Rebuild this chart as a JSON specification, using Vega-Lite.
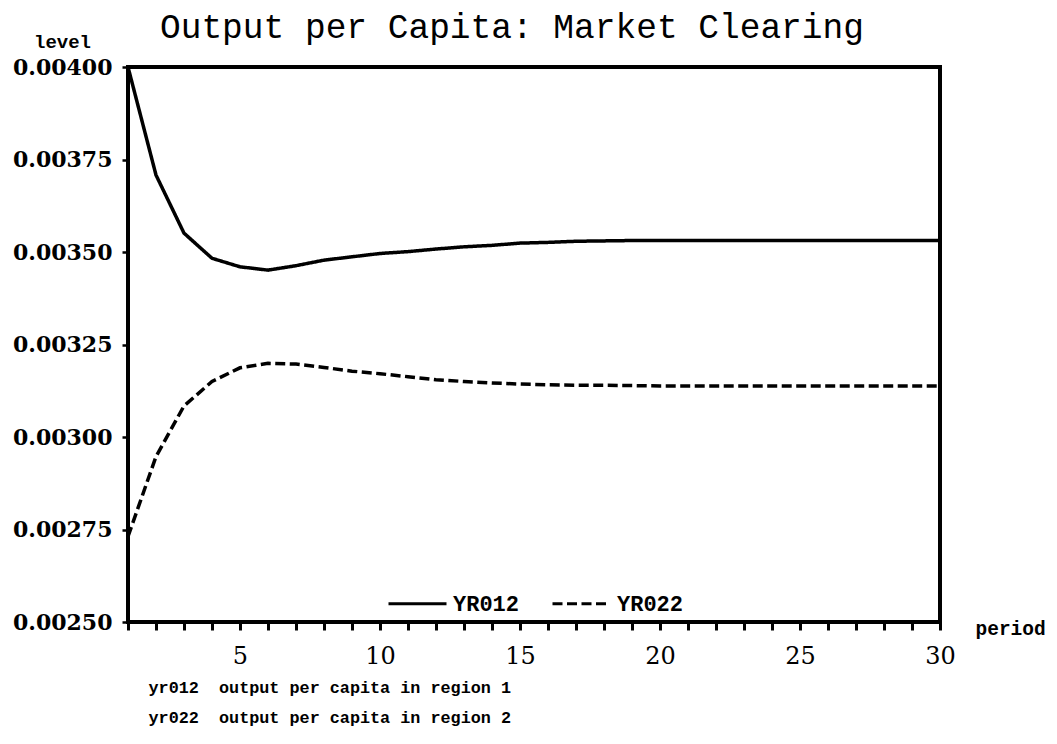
{
  "$schema": "https://vega.github.io/schema/vega-lite/v6.json",
  "width": 812,
  "height": 555,
  "autosize": {"type": "none"},
  "padding": {"left": 128, "top": 67, "right": 117, "bottom": 122},
  "background": "white",
  "title": {
    "text": "Output per Capita: Market Clearing",
    "anchor": "start",
    "frame": "group",
    "dx": 32,
    "offset": -40,
    "font": "Liberation Mono",
    "fontSize": 34.5,
    "fontWeight": "normal",
    "color": "black",
    "baseline": "alphabetic"
  },
  "config": {
    "view": {"stroke": "black", "strokeWidth": 4},
    "axis": {"grid": false, "domain": false, "labelColor": "black", "titleColor": "black", "tickColor": "black"}
  },
  "data": {
    "values": [
      {"period": 1, "series": "YR012", "value": 0.004},
      {"period": 2, "series": "YR012", "value": 0.003708},
      {"period": 3, "series": "YR012", "value": 0.003551},
      {"period": 4, "series": "YR012", "value": 0.003483},
      {"period": 5, "series": "YR012", "value": 0.00346},
      {"period": 6, "series": "YR012", "value": 0.003451},
      {"period": 7, "series": "YR012", "value": 0.003463},
      {"period": 8, "series": "YR012", "value": 0.003478},
      {"period": 9, "series": "YR012", "value": 0.003487},
      {"period": 10, "series": "YR012", "value": 0.003496},
      {"period": 11, "series": "YR012", "value": 0.003501},
      {"period": 12, "series": "YR012", "value": 0.003508},
      {"period": 13, "series": "YR012", "value": 0.003514},
      {"period": 14, "series": "YR012", "value": 0.003518},
      {"period": 15, "series": "YR012", "value": 0.003524},
      {"period": 16, "series": "YR012", "value": 0.003526},
      {"period": 17, "series": "YR012", "value": 0.003529},
      {"period": 18, "series": "YR012", "value": 0.00353},
      {"period": 19, "series": "YR012", "value": 0.003531},
      {"period": 20, "series": "YR012", "value": 0.003531},
      {"period": 21, "series": "YR012", "value": 0.003531},
      {"period": 22, "series": "YR012", "value": 0.003531},
      {"period": 23, "series": "YR012", "value": 0.003531},
      {"period": 24, "series": "YR012", "value": 0.003531},
      {"period": 25, "series": "YR012", "value": 0.003531},
      {"period": 26, "series": "YR012", "value": 0.003531},
      {"period": 27, "series": "YR012", "value": 0.003531},
      {"period": 28, "series": "YR012", "value": 0.003531},
      {"period": 29, "series": "YR012", "value": 0.003531},
      {"period": 30, "series": "YR012", "value": 0.003531},
      {"period": 1, "series": "YR022", "value": 0.002731},
      {"period": 2, "series": "YR022", "value": 0.002947},
      {"period": 3, "series": "YR022", "value": 0.003084},
      {"period": 4, "series": "YR022", "value": 0.00315},
      {"period": 5, "series": "YR022", "value": 0.003187},
      {"period": 6, "series": "YR022", "value": 0.003199},
      {"period": 7, "series": "YR022", "value": 0.003197},
      {"period": 8, "series": "YR022", "value": 0.003188},
      {"period": 9, "series": "YR022", "value": 0.003178},
      {"period": 10, "series": "YR022", "value": 0.003171},
      {"period": 11, "series": "YR022", "value": 0.003163},
      {"period": 12, "series": "YR022", "value": 0.003155},
      {"period": 13, "series": "YR022", "value": 0.00315},
      {"period": 14, "series": "YR022", "value": 0.003146},
      {"period": 15, "series": "YR022", "value": 0.003143},
      {"period": 16, "series": "YR022", "value": 0.003141},
      {"period": 17, "series": "YR022", "value": 0.00314},
      {"period": 18, "series": "YR022", "value": 0.00314},
      {"period": 19, "series": "YR022", "value": 0.003139},
      {"period": 20, "series": "YR022", "value": 0.003138},
      {"period": 21, "series": "YR022", "value": 0.003138},
      {"period": 22, "series": "YR022", "value": 0.003138},
      {"period": 23, "series": "YR022", "value": 0.003138},
      {"period": 24, "series": "YR022", "value": 0.003138},
      {"period": 25, "series": "YR022", "value": 0.003138},
      {"period": 26, "series": "YR022", "value": 0.003138},
      {"period": 27, "series": "YR022", "value": 0.003138},
      {"period": 28, "series": "YR022", "value": 0.003138},
      {"period": 29, "series": "YR022", "value": 0.003138},
      {"period": 30, "series": "YR022", "value": 0.003138}
    ]
  },
  "encoding": {
    "y": {
      "field": "value",
      "type": "quantitative",
      "scale": {"domain": [0.0025, 0.004], "nice": false, "zero": false},
      "axis": {
        "values": [0.0025, 0.00275, 0.003, 0.00325, 0.0035, 0.00375, 0.004],
        "format": ".5f",
        "labelFont": "DejaVu Serif",
        "labelFontWeight": "bold",
        "labelFontSize": 22,
        "labelPadding": 10,
        "labelFlush": false,
        "labelOverlap": false,
        "tickSize": 6,
        "tickWidth": 2.5,
        "title": "level",
        "titleAngle": 0,
        "titleX": -66,
        "titleY": -20,
        "titleAlign": "center",
        "titleBaseline": "alphabetic",
        "titleFont": "Liberation Mono",
        "titleFontWeight": "bold",
        "titleFontSize": 19
      }
    }
  },
  "layer": [
    {
      "mark": {"type": "line", "strokeWidth": 3.5, "color": "black"},
      "encoding": {
        "x": {
          "field": "period",
          "type": "quantitative",
          "scale": {"domain": [1, 30], "nice": false, "zero": false},
          "axis": {
            "orient": "bottom",
            "values": [1,2,3,4,5,6,7,8,9,10,11,12,13,14,15,16,17,18,19,20,21,22,23,24,25,26,27,28,29,30],
            "labelExpr": "datum.value % 5 == 0 ? datum.label : ''",
            "labelFont": "DejaVu Serif",
            "labelFontSize": 24,
            "labelFontWeight": "normal",
            "labelPadding": 14,
            "labelFlush": false,
            "labelOverlap": false,
            "tickSize": 8,
            "tickWidth": 3,
            "title": "period",
            "titleX": 847,
            "titleY": 12,
            "titleAlign": "left",
            "titleBaseline": "alphabetic",
            "titleFont": "Liberation Mono",
            "titleFontWeight": "bold",
            "titleFontSize": 19.5
          }
        },
        "strokeDash": {
          "field": "series",
          "type": "nominal",
          "scale": {"domain": ["YR012", "YR022"], "range": [[1, 0], [10, 4.5]]},
          "legend": {
            "orient": "none",
            "legendX": 259,
            "legendY": 506,
            "direction": "horizontal",
            "title": null,
            "symbolType": "stroke",
            "symbolSize": 3364,
            "symbolStrokeWidth": 3,
            "symbolStrokeColor": "black",
            "labelFont": "Liberation Mono",
            "labelFontWeight": "bold",
            "labelFontSize": 22,
            "labelColor": "black",
            "labelOffset": 5,
            "columnPadding": 26,
            "padding": 0
          }
        }
      }
    },
    {
      "mark": {"type": "point", "opacity": 0},
      "encoding": {
        "x": {
          "field": "period",
          "type": "quantitative",
          "axis": {
            "orient": "bottom",
            "domain": false,
            "ticks": false,
            "labels": false,
            "grid": false,
            "title": ["yr012\u00a0 output per capita in region 1", "yr022\u00a0 output per capita in region 2"],
            "titleX": 20,
            "titleY": 70,
            "titleAlign": "left",
            "titleBaseline": "alphabetic",
            "titleLineHeight": 30,
            "titleFont": "Liberation Mono",
            "titleFontWeight": "bold",
            "titleFontSize": 16.8
          }
        }
      }
    }
  ],
  "resolve": {"axis": {"x": "independent"}}
}
